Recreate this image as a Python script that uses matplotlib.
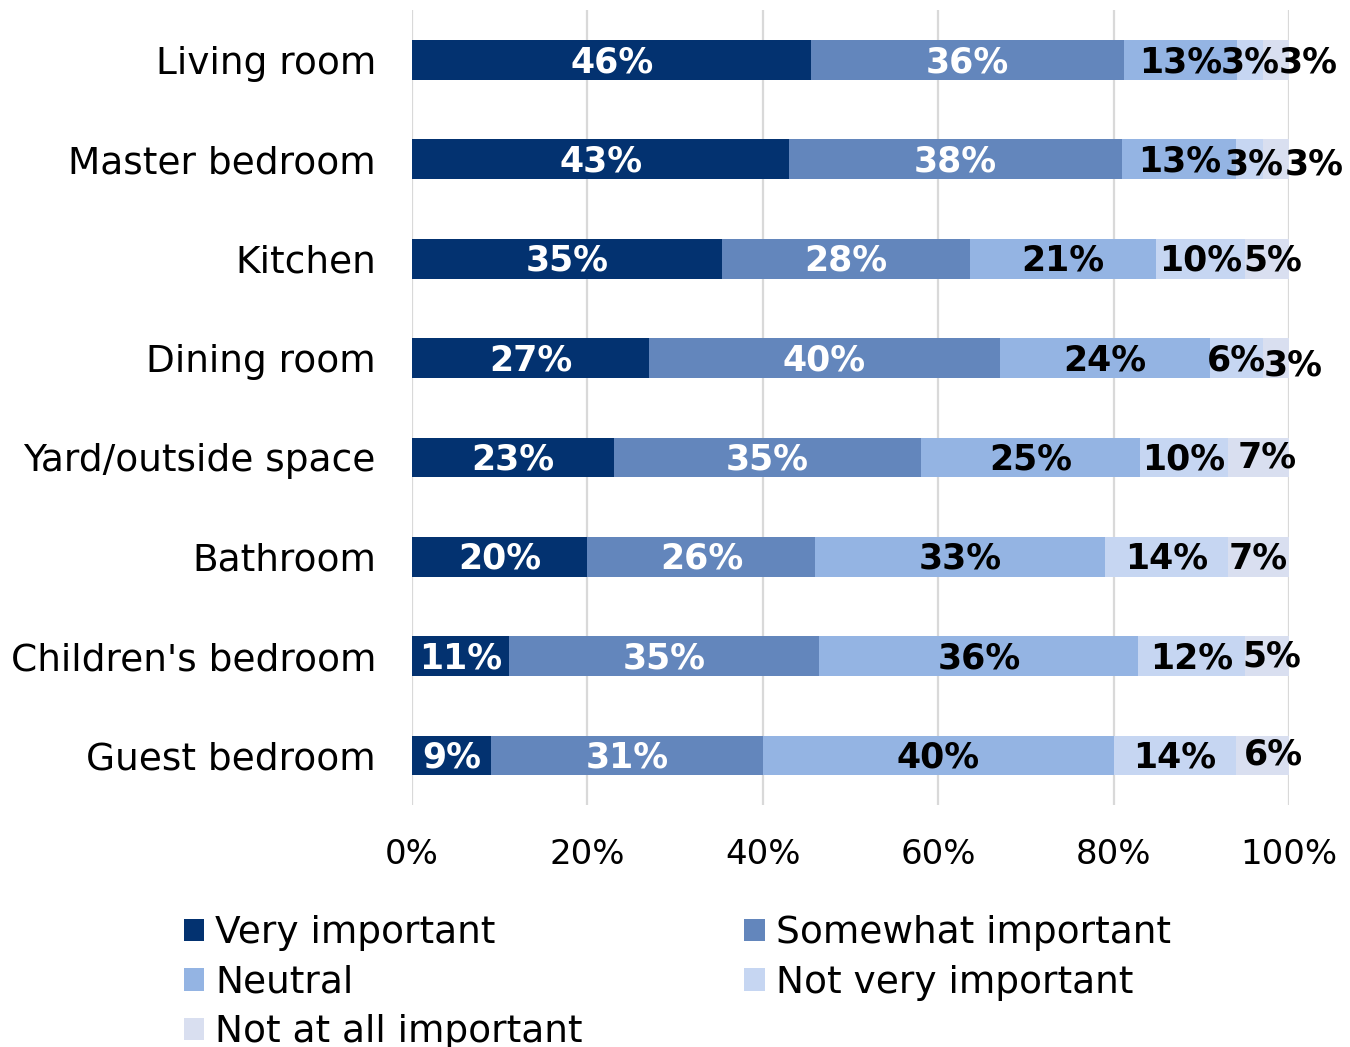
import numpy as np
import matplotlib.pyplot as plt

rooms = ['Living room', 'Master bedroom', 'Kitchen', 'Dining room',
         'Yard/outside space', 'Bathroom', "Children's bedroom", 'Guest bedroom']
levels = ['Very important', 'Somewhat important', 'Neutral',
          'Not very important', 'Not at all important']

very = [46, 43, 35, 27, 23, 20, 11, 9]
somewhat = [36, 38, 28, 40, 35, 26, 35, 31]
neutral = [13, 13, 21, 24, 25, 33, 36, 40]
not_very = [3, 3, 10, 6, 10, 14, 12, 14]
not_at_all = [3, 3, 5, 3, 7, 7, 5, 6]

colors = ['#033270', '#6386BC', '#94B4E3', '#C6D6F2', '#D9DFF0']
text_colors = ['white', 'white', 'black', 'black', 'black']

# label nudges in pixels (right, down) for the crowded small segments
nudges = {(0, 4): (32, 0), (1, 3): (5, 3), (1, 4): (38, 3), (2, 4): (6, 0),
          (3, 4): (17, 5), (4, 4): (9, -2), (6, 4): (5, -2), (7, 4): (11, -3)}

plt.rcParams['font.family'] = 'DejaVu Sans'

data = np.array([very, somewhat, neutral, not_very, not_at_all], dtype=float)
shares = data / data.sum(axis=0) * 100

fig = plt.figure(figsize=(13.5, 10.47), dpi=100)
ax = fig.add_axes([0.3052, 0.2311, 0.6496, 0.7590])

y = np.arange(len(rooms))
left = np.zeros(len(rooms))
for k in range(len(levels)):
    ax.barh(y, shares[k], left=left, height=0.4, color=colors[k],
            label=levels[k], zorder=2)
    for i in range(len(rooms)):
        dx, dy = nudges.get((i, k), (0, 0))
        ax.annotate('%d%%' % data[k, i], (left[i] + shares[k, i] / 2, y[i]),
                    xytext=(dx, -dy - 2), textcoords='offset pixels',
                    ha='center', va='center', fontsize=25, fontweight='bold',
                    color=text_colors[k], zorder=3)
    left += shares[k]

ax.set_ylim(len(rooms) - 0.5, -0.5)
ax.set_xlim(0, 100)
ax.set_yticks(y)
ax.set_yticklabels(rooms, fontsize=27)
ax.set_xticks(range(0, 101, 20))
ax.set_xticklabels(['%d%%' % v for v in range(0, 101, 20)], fontsize=24.5)
ax.tick_params(length=0)
ax.tick_params(axis='y', pad=26)
ax.tick_params(axis='x', pad=24)
ax.grid(axis='x', color='#D9D9D9', linewidth=1.6, zorder=0)
for s in ax.spines.values():
    s.set_visible(False)

h, l = ax.get_legend_handles_labels()
order = [0, 2, 4, 1, 3]
fig.legend([h[i] for i in order], [l[i] for i in order], ncol=2,
           loc='upper left', bbox_to_anchor=(0.136, 0.126), frameon=False,
           fontsize=27, handlelength=0.55, handleheight=0.55, handletextpad=0.3,
           columnspacing=4.3, labelspacing=0.36, borderpad=0, borderaxespad=0)

fig.savefig('out.png', dpi=100)
